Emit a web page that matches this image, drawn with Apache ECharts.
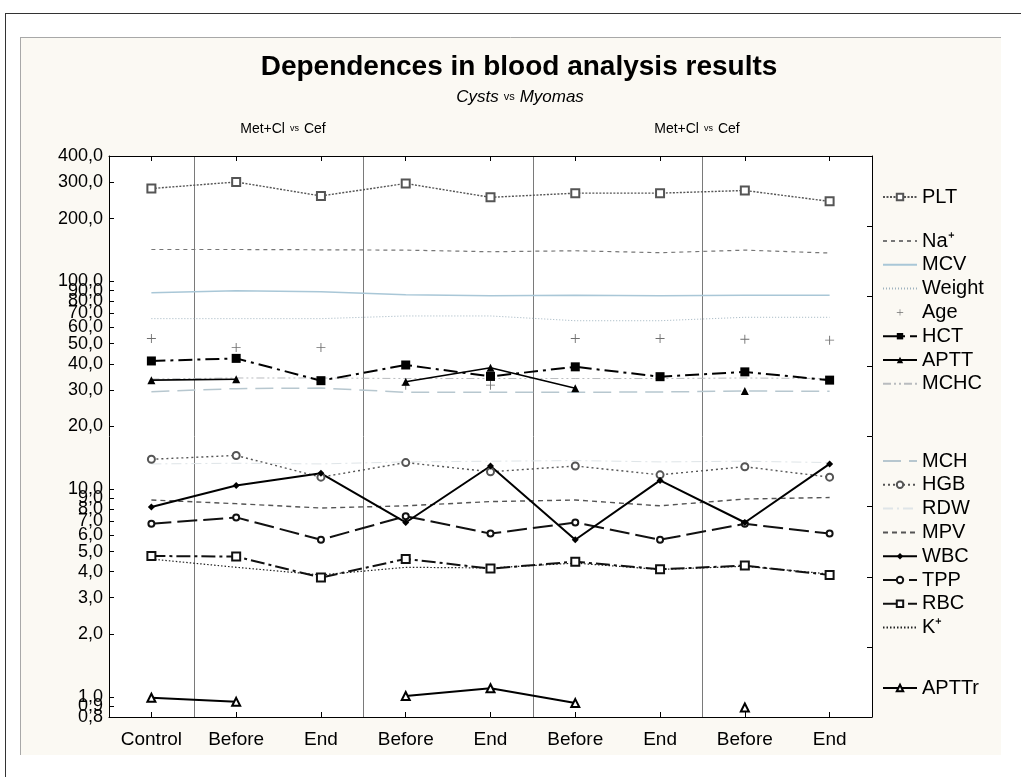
<!DOCTYPE html>
<html>
<head>
<meta charset="utf-8">
<title>Dependences in blood analysis results</title>
<script src="https://cdn.jsdelivr.net/npm/echarts@6/dist/echarts.min.js"></script>
<style>
  html, body { margin: 0; padding: 0; background: #fff; }
  #chart { width: 1021px; height: 777px; }
</style>
</head>
<body>
<div id="chart"></div>
<script>
// categories and tick labels
const categories = ['Control', 'Before', 'End', 'Before', 'End', 'Before', 'End', 'Before', 'End'];
const yTicks = [0.8, 0.9, 1, 2, 3, 4, 5, 6, 7, 8, 9, 10, 20, 30, 40, 50, 60, 70, 80, 90, 100, 200, 300, 400];

// values (log scale)
const plt    = [279, 300, 257, 295, 253, 265, 265, 273, 242];
const na     = [142, 142, 141.5, 141, 138.5, 140, 137, 141, 136.5];
const mcv    = [88, 90, 89, 86, 85, 85.5, 85, 85.5, 85.5];
const weight = [66, 66, 66, 68, 68, 64.5, 64.5, 67, 67];
const age    = [53, 48, 48, 31.6, 31.6, 53, 53, 52.5, 52];
const hct    = [41.3, 42.5, 33.2, 39.5, 34.8, 38.7, 34.7, 36.6, 33.4];
const aptt   = [33.4, 33.7, null, 32.8, 38.3, 30.5, null, 29.6, null];
const mchc   = [33.8, 34.2, 34.2, 34, 34, 34, 34, 34.2, 34];
const mch    = [29.4, 30.4, 30.6, 29.2, 29.2, 29.2, 29.3, 29.6, 29.5];
const hgb    = [13.9, 14.5, 11.4, 13.4, 12.1, 12.9, 11.7, 12.8, 11.4];
const rdw    = [13.2, 13.3, 13.2, 13.5, 13.6, 13.7, 13.5, 13.6, 13.4];
const mpv    = [8.85, 8.5, 8.1, 8.3, 8.7, 8.85, 8.3, 8.95, 9.1];
const wbc    = [8.2, 10.4, 11.9, 6.9, 12.9, 5.7, 11.0, 6.9, 13.2];
const tpp    = [6.8, 7.3, 5.7, 7.4, 6.1, 6.9, 5.7, 6.8, 6.1];
const rbc    = [4.76, 4.73, 3.75, 4.61, 4.14, 4.47, 4.11, 4.28, 3.86];
const kPlus  = [4.6, 4.2, 3.86, 4.2, 4.17, 4.4, 4.1, 4.25, 3.9];
const apttr  = [0.99, 0.946, null, 1.01, 1.10, 0.933, null, 0.888, null];

const FONT = 'Liberation Sans';
const PLUS = 'path://M4.5 0H5.5V4.5H10V5.5H5.5V10H4.5V5.5H0V4.5H4.5Z';

// echarts drops a label next to the min/max one when they collide,
// so the crowded 0,9 / 1,0 labels are listed away from the ends
const labelOrder = [yTicks[0]].concat(yTicks.slice(3, -1), yTicks.slice(1, 3), yTicks.slice(-1));

// small helper for one line series
function line(name, data, color, width, dash, symbol, size, opts) {
  return Object.assign({
    name: name,
    type: 'line',
    data: data,
    symbol: symbol || 'none',
    symbolSize: size || 6,
    showSymbol: !!symbol,
    connectNulls: false,
    silent: true,
    animation: false,
    itemStyle: { color: color, borderWidth: 1 },
    lineStyle: { color: color, width: width, type: dash }
  }, opts || {});
}

const series = [
  line('MCV', mcv, '#a9c7d7', 1.5, 'solid'),
  line('RDW', rdw, '#dfe5e8', 1, [10, 4, 2, 4]),
  line('MCHC', mchc, '#b9bcbf', 1, [8, 3, 2, 3, 2, 3]),
  line('MCH', mch, '#b7c7cf', 1.5, [18, 8]),
  line('Weight', weight, '#9fb3bf', 1, [1, 2]),
  line('Na⁺', na, '#777777', 1.2, [4, 4]),
  line('Age', age, '#6f6f6f', 0, 'solid', PLUS, 9, { lineStyle: { width: 0, opacity: 0 } }),
  line('PLT', plt, '#555555', 1.4, [2, 1.5], 'emptyRect', 8),
  line('HGB', hgb, '#555555', 1.4, [2, 3], 'emptyCircle', 7),
  line('MPV', mpv, '#555555', 1.4, [5, 4]),
  line('K⁺', kPlus, '#222222', 1.2, [1.5, 2]),
  line('RBC', rbc, '#111111', 2, [14, 4, 3, 4], 'emptyRect', 8),
  line('TPP', tpp, '#111111', 2, [20, 6], 'emptyCircle', 6),
  line('WBC', wbc, '#000000', 2, 'solid', 'diamond', 7),
  line('HCT', hct, '#000000', 2, [14, 5, 3, 5], 'rect', 9),
  line('APTT', aptt, '#000000', 1.6, 'solid', 'triangle', 8),
  line('APTTr', apttr, '#000000', 2, 'solid', 'emptyTriangle', 8)
];

// series drawn without markers: hide the marker in the legend too
const noMarker = ['Na⁺', 'MCV', 'Weight', 'MCHC', 'MCH', 'RDW', 'MPV', 'K⁺'];

function legend(names, top) {
  return {
    data: names.map(function (n) {
      return noMarker.indexOf(n) >= 0 ? { name: n, itemStyle: { opacity: 0 } } : n;
    }),
    orient: 'vertical',
    left: 882,
    top: top,
    itemWidth: 34,
    itemHeight: 8,
    itemGap: 3.8,
    padding: 0,
    selectedMode: false,
    textStyle: { fontFamily: FONT, fontSize: 20, lineHeight: 20, color: '#000' }
  };
}

const subStyle = function (size) {
  return { fontFamily: FONT, fontSize: size, fontWeight: 'normal', color: '#000' };
};

const chart = echarts.init(document.getElementById('chart'));

chart.setOption({
  backgroundColor: '#ffffff',
  animation: false,
  textStyle: { fontFamily: FONT },
  graphic: [
    { type: 'rect', z: -100, silent: true, shape: { x: 20, y: 37, width: 981, height: 718 }, style: { fill: '#fbf9f3' } },
    { type: 'line', z: -90, silent: true, shape: { x1: 20, y1: 37.5, x2: 1001, y2: 37.5 }, style: { stroke: '#a8a8a8', lineWidth: 1 } },
    { type: 'line', z: -90, silent: true, shape: { x1: 20.5, y1: 37, x2: 20.5, y2: 755 }, style: { stroke: '#a8a8a8', lineWidth: 1 } },
    { type: 'line', z: -90, silent: true, shape: { x1: 5, y1: 13.5, x2: 1021, y2: 13.5 }, style: { stroke: '#333', lineWidth: 1 } },
    { type: 'line', z: -90, silent: true, shape: { x1: 5.5, y1: 13, x2: 5.5, y2: 777 }, style: { stroke: '#333', lineWidth: 1 } }
  ],
  title: [
    {
      text: 'Dependences in blood analysis results',
      left: 519, top: 53, textAlign: 'center', padding: 0,
      textStyle: { fontFamily: FONT, fontSize: 28, fontWeight: 'bold', color: '#000' }
    },
    {
      text: '{i|Cysts} {s|vs} {i|Myomas}',
      left: 520, top: 88, textAlign: 'center', padding: 0,
      textStyle: {
        fontFamily: FONT, fontWeight: 'normal', color: '#000',
        rich: {
          i: Object.assign(subStyle(17), { fontStyle: 'italic' }),
          s: subStyle(11)
        }
      }
    },
    {
      text: '{n|Met+Cl} {s|vs} {n|Cef}',
      left: 283, top: 120, textAlign: 'center', padding: 0,
      textStyle: { fontFamily: FONT, fontWeight: 'normal', color: '#000', rich: { n: subStyle(14), s: subStyle(9) } }
    },
    {
      text: '{n|Met+Cl} {s|vs} {n|Cef}',
      left: 697, top: 120, textAlign: 'center', padding: 0,
      textStyle: { fontFamily: FONT, fontWeight: 'normal', color: '#000', rich: { n: subStyle(14), s: subStyle(9) } }
    }
  ],
  legend: [
    legend(['PLT'], 187),
    legend(['Na⁺', 'MCV', 'Weight', 'Age', 'HCT', 'APTT', 'MCHC'], 231),
    legend(['MCH', 'HGB', 'RDW', 'MPV', 'WBC', 'TPP', 'RBC', 'K⁺'], 451),
    legend(['APTTr'], 678)
  ],
  grid: {
    left: 109, top: 156, width: 763, height: 561,
    show: true, backgroundColor: '#ffffff', borderWidth: 0,
    outerBoundsMode: 'none'
  },
  xAxis: [
    {
      type: 'category',
      data: categories,
      position: 'bottom',
      boundaryGap: true,
      axisLine: { show: true, lineStyle: { color: '#000', width: 1 } },
      axisTick: { show: true, inside: true, length: 5, alignWithLabel: true, lineStyle: { color: '#000' } },
      axisLabel: { fontFamily: FONT, fontSize: 19, color: '#000', margin: 13, interval: 0 },
      splitLine: {
        show: true,
        interval: function (idx) { return idx % 2 === 1; },
        lineStyle: { color: '#7a7a7a', width: 1 }
      }
    },
    {
      type: 'category',
      data: categories,
      position: 'top',
      boundaryGap: true,
      axisLine: { show: true, lineStyle: { color: '#000', width: 1 } },
      axisTick: { show: true, inside: true, length: 5, alignWithLabel: true, lineStyle: { color: '#000' } },
      axisLabel: { show: false },
      splitLine: { show: false }
    }
  ],
  yAxis: [
    {
      type: 'log',
      logBase: 10,
      min: 0.7999,
      max: 400,
      position: 'left',
      axisLine: { show: true, lineStyle: { color: '#000', width: 1 } },
      axisTick: { show: true, inside: true, length: 5, customValues: yTicks, lineStyle: { color: '#000' } },
      axisLabel: {
        customValues: labelOrder,
        showMinLabel: true,
        showMaxLabel: true,
        hideOverlap: false,
        fontFamily: FONT, fontSize: 18, color: '#000', margin: 6,
        formatter: function (v) { return v.toFixed(1).replace('.', ','); }
      },
      splitLine: { show: false },
      minorTick: { show: false }
    },
    {
      type: 'value',
      min: 0,
      max: 8,
      interval: 1,
      position: 'right',
      axisLine: { show: true, lineStyle: { color: '#000', width: 1 } },
      axisTick: { show: true, inside: true, length: 5, lineStyle: { color: '#000' } },
      axisLabel: { show: false },
      splitLine: { show: false }
    }
  ],
  series: series
});
</script>
</body>
</html>
